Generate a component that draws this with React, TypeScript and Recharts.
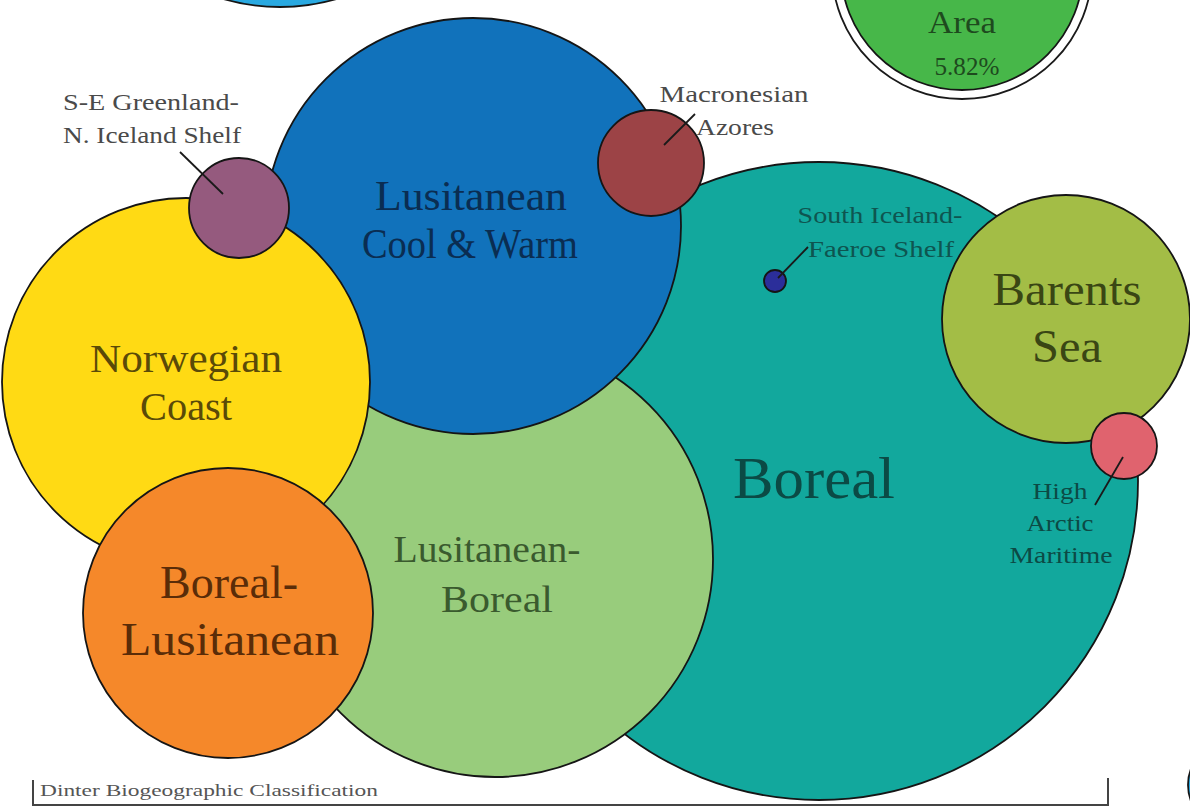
import React from 'react';
import { ScatterChart, Scatter, XAxis, YAxis, ZAxis } from 'recharts';

const W = 1190;
const H = 807;

// Bubble data (chart units = pixels of the original graphic)
const REGIONS = [
  'Top',
  'Area',
  'Boreal',
  'Lusitanean-Boreal',
  'Lusitanean Cool & Warm',
  'Norwegian Coast',
  'Boreal-Lusitanean',
  'S-E Greenland-N. Iceland Shelf',
  'Macronesian Azores',
  'South Iceland-Faeroe Shelf',
  'Barents Sea',
  'High Arctic Maritime',
  'Edge',
];
const CENTER_X = [280, 962, 819, 495, 473, 186, 228, 239, 651, 775, 1066, 1124, 1232];
const CENTER_Y = [-197, -31, 481, 559, 226, 382, 613, 208, 163, 281, 319, 446, 785];
const RADIUS = [204, 121, 319, 218, 208, 184, 145, 50, 53, 11, 124, 33, 44];
const AREA_SHARE = '5.82%';

const data = REGIONS.map((name, i) => ({
  name,
  x: CENTER_X[i],
  y: CENTER_Y[i],
  z: Math.PI * RADIUS[i] * RADIUS[i],
}));
const Z_MAX = Math.max(...data.map((d) => d.z));

const FILL: Record<string, string> = {
  Top: '#29A9E1',
  Area: '#47B749',
  Boreal: '#12A89D',
  'Lusitanean-Boreal': '#98CC7C',
  'Lusitanean Cool & Warm': '#1172BB',
  'Norwegian Coast': '#FFDA14',
  'Boreal-Lusitanean': '#F5882A',
  'S-E Greenland-N. Iceland Shelf': '#955A7E',
  'Macronesian Azores': '#9C4346',
  'South Iceland-Faeroe Shelf': '#2B2E9A',
  'Barents Sea': '#A3BD46',
  'High Arctic Maritime': '#E0636E',
  Edge: '#29A9E1',
};

type Line = { t: string; dx: number; dy: number; size: number; w: number };
type LabelSpec = { color: string; lines: Line[]; leader?: [number, number, number, number] };

const LABELS: Record<string, LabelSpec> = {
  Area: {
    color: '#1E4A1E',
    lines: [
      { t: 'Area', dx: 0, dy: 64, size: 32, w: 68 },
      { t: AREA_SHARE, dx: 5, dy: 106, size: 26, w: 65 },
    ],
  },
  Boreal: {
    color: '#0B4A45',
    lines: [{ t: 'Boreal', dx: -5, dy: 17, size: 60, w: 162 }],
  },
  'Lusitanean-Boreal': {
    color: '#3A5A2E',
    lines: [
      { t: 'Lusitanean-', dx: -8, dy: 3, size: 38, w: 187 },
      { t: 'Boreal', dx: 2, dy: 53, size: 38, w: 112 },
    ],
  },
  'Lusitanean Cool & Warm': {
    color: '#0A2D52',
    lines: [
      { t: 'Lusitanean', dx: -2, dy: -16, size: 42, w: 192 },
      { t: 'Cool & Warm', dx: -3, dy: 32, size: 42, w: 216 },
    ],
  },
  'Norwegian Coast': {
    color: '#5A4A08',
    lines: [
      { t: 'Norwegian', dx: 0, dy: -10, size: 40, w: 192 },
      { t: 'Coast', dx: 0, dy: 38, size: 40, w: 92 },
    ],
  },
  'Boreal-Lusitanean': {
    color: '#5A2C08',
    lines: [
      { t: 'Boreal-', dx: 1, dy: -15, size: 46, w: 138 },
      { t: 'Lusitanean', dx: 2, dy: 42, size: 46, w: 218 },
    ],
  },
  'S-E Greenland-N. Iceland Shelf': {
    color: '#4A4A4A',
    leader: [-59, -56, -16, -14],
    lines: [
      { t: 'S-E Greenland-', dx: -88, dy: -98, size: 24, w: 176 },
      { t: 'N. Iceland Shelf', dx: -87, dy: -65, size: 24, w: 178 },
    ],
  },
  'Macronesian Azores': {
    color: '#4A4A4A',
    leader: [13, -18, 44, -49],
    lines: [
      { t: 'Macronesian', dx: 83, dy: -61, size: 24, w: 149 },
      { t: 'Azores', dx: 84, dy: -28, size: 24, w: 78 },
    ],
  },
  'South Iceland-Faeroe Shelf': {
    color: '#0E5550',
    leader: [3, -3, 33, -34],
    lines: [
      { t: 'South Iceland-', dx: 105, dy: -58, size: 24, w: 165 },
      { t: 'Faeroe Shelf', dx: 106, dy: -24, size: 24, w: 146 },
    ],
  },
  'Barents Sea': {
    color: '#3A4614',
    lines: [
      { t: 'Barents', dx: 1, dy: -14, size: 46, w: 149 },
      { t: 'Sea', dx: 1, dy: 43, size: 46, w: 70 },
    ],
  },
  'High Arctic Maritime': {
    color: '#0C4A45',
    leader: [-1, 11, -29, 59],
    lines: [
      { t: 'High', dx: -64, dy: 53, size: 24, w: 55 },
      { t: 'Arctic', dx: -64, dy: 85, size: 24, w: 67 },
      { t: 'Maritime', dx: -63, dy: 117, size: 24, w: 103 },
    ],
  },
};

const FONT = "'Liberation Serif', 'DejaVu Serif', serif";

const Bubble = (p: any) => {
  const r = (p.width || 0) / 2;
  const name = p.payload?.name;
  const fill = FILL[name] || '#ccc';
  return (
    <g>
      {name === 'Area' && (
        <circle cx={p.cx} cy={p.cy} r={r + 9} fill="#ffffff" stroke="#1a1a1a" strokeWidth={1.8} />
      )}
      <circle cx={p.cx} cy={p.cy} r={r} fill={fill} stroke="#151515" strokeWidth={1.8} />
    </g>
  );
};

const BubbleLabel = (p: any) => {
  const spec = LABELS[p.payload?.name];
  if (!spec) return <g />;
  return (
    <g>
      {spec.leader && (
        <line
          x1={p.cx + spec.leader[0]}
          y1={p.cy + spec.leader[1]}
          x2={p.cx + spec.leader[2]}
          y2={p.cy + spec.leader[3]}
          stroke="#1a1a1a"
          strokeWidth={1.8}
        />
      )}
      {spec.lines.map((ln, i) => (
        <text
          key={i}
          x={p.cx + ln.dx}
          y={p.cy + ln.dy}
          textAnchor="middle"
          fontSize={ln.size}
          fontFamily={FONT}
          fill={spec.color}
          textLength={ln.w}
          lengthAdjust="spacingAndGlyphs"
        >
          {ln.t}
        </text>
      ))}
    </g>
  );
};

export default function App() {
  return (
    <div style={{ position: 'absolute', left: 0, top: 0, width: W, height: H, background: '#ffffff', overflow: 'hidden' }}>
      <ScatterChart width={W} height={H} margin={{ top: 0, right: 0, bottom: 0, left: 0 }}>
        <XAxis type="number" dataKey="x" domain={[0, W]} allowDataOverflow hide />
        <YAxis type="number" dataKey="y" domain={[0, H]} allowDataOverflow reversed hide />
        <ZAxis type="number" dataKey="z" domain={[0, Z_MAX]} range={[0, Z_MAX]} />
        <Scatter data={data} shape={Bubble} isAnimationActive={false} />
        <Scatter data={data} shape={BubbleLabel} isAnimationActive={false} />
      </ScatterChart>
      <svg width={W} height={H} style={{ position: 'absolute', left: 0, top: 0, pointerEvents: 'none' }}>
        <polyline points="33,780 33,805 1108,805 1108,778" fill="none" stroke="#444" strokeWidth={2} />
        <text x={40} y={796} fontSize={17} fontFamily={FONT} fill="#555" textLength={338} lengthAdjust="spacingAndGlyphs">
          Dinter Biogeographic Classification
        </text>
      </svg>
    </div>
  );
}
